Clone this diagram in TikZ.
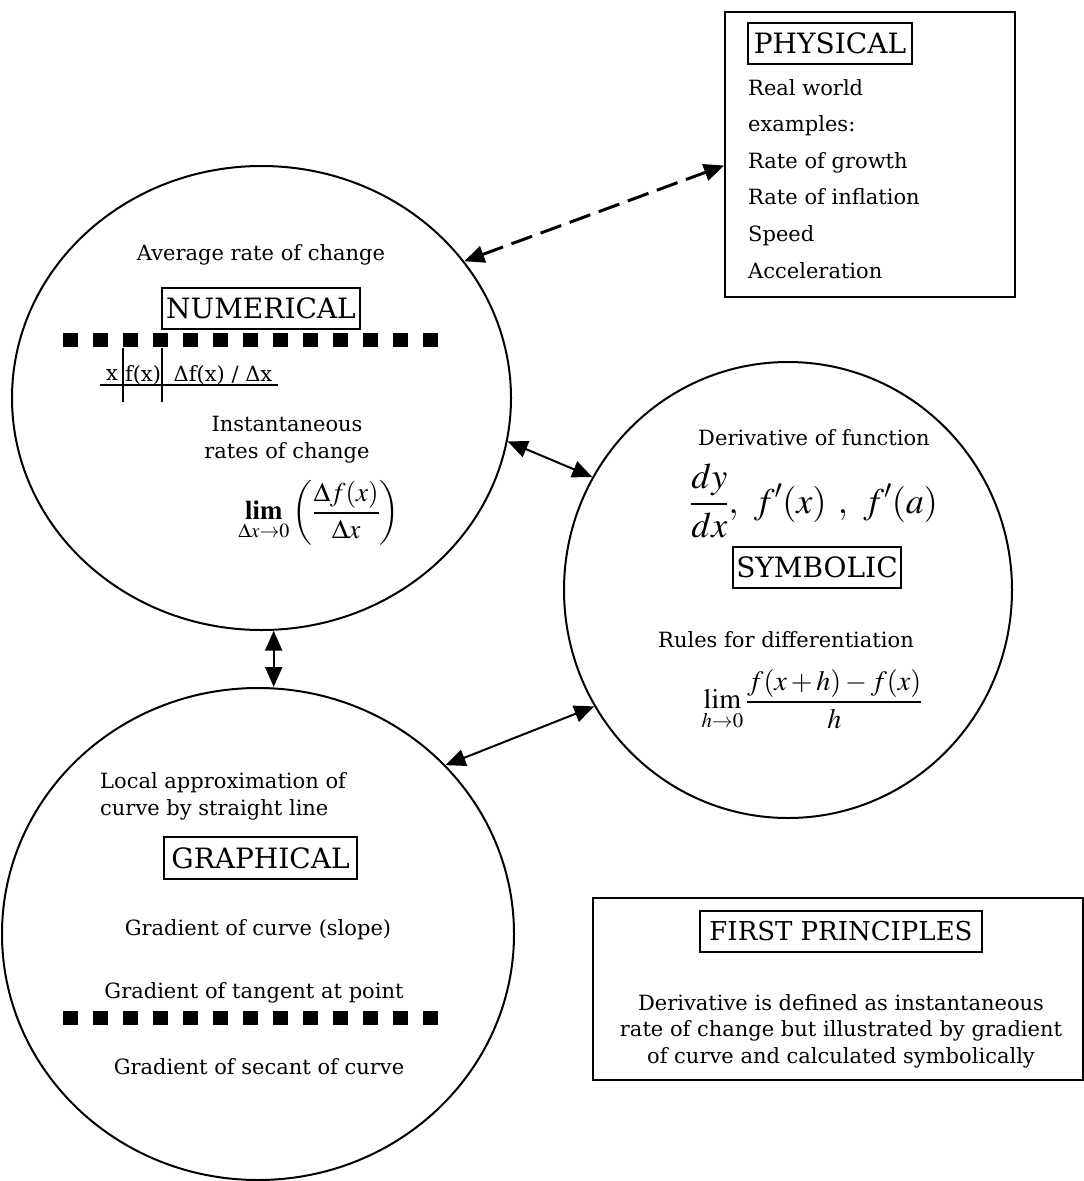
\documentclass[tikz,border=0pt]{standalone}
\usepackage{mathptmx}
\usepackage{fontspec}
\setmainfont{DejaVu Serif}
\usetikzlibrary{shapes.geometric,arrows.meta,calc}

\begin{document}
\begin{tikzpicture}[x=1pt,y=-1pt,
  txt/.style={font=\fontsize{21}{27}\selectfont, inner sep=0, align=center},
  ring/.style={ellipse, draw, line width=2pt, inner sep=0},
  tag/.style={draw, line width=2.5pt, inner sep=0, font=\fontsize{28}{28}\selectfont},
  frame/.style={draw, line width=2pt, inner sep=0},
  tip/.tip={Triangle[length=20pt,width=17pt]},
  link/.style={line width=2pt, tip-tip},
  squares/.style={line width=14pt, dash pattern=on 15pt off 15pt},
  rule/.style={line width=1.5pt},
  cell/.style={inner sep=0, font=\fontsize{21}{21}\selectfont},
]
\useasboundingbox (0,0) rectangle (1084,1181);

% the three views drawn as rings
\node[ring, minimum width=499pt, minimum height=464pt] (num) at (261.5,398) {};
\node[ring, minimum width=448pt, minimum height=456pt] (sym) at (788,590) {};
\node[ring, minimum width=512pt, minimum height=492pt] (gra) at (258,934) {};

% physical box
\node[frame, minimum width=290pt, minimum height=285pt] (phys) at (870,154.5) {};
\node[tag, minimum width=164pt, minimum height=41pt] (physlbl) at (830,43.5) {PHYSICAL};
\node[txt, align=left, anchor=north west, font=\fontsize{21}{36.6}\selectfont] (physlist) at (748,79)
  {Real world\\examples:\\Rate of growth\\Rate of inflation\\Speed\\Acceleration};

% first principles box
\node[frame, minimum width=490pt, minimum height=182pt] (fp) at (838,989) {};
\node[tag, font=\fontsize{26}{26}\selectfont, minimum width=282pt, minimum height=41pt] (fplbl) at (841,931.5) {FIRST PRINCIPLES};
\node[txt, font=\fontsize{21}{26.5}\selectfont] (fptext) at (841,1031)
  {Derivative is defined as instantaneous\\rate of change but illustrated by gradient\\of curve and calculated symbolically};

% numerical
\node[txt] (avg) at (261,255) {Average rate of change};
\node[tag, minimum width=198pt, minimum height=41pt] (numlbl) at (261,308.5) {NUMERICAL};
\draw[squares] (63,340) -- (450,340);
\node[cell] (tx) at (112,375) {x};
\node[cell] (tf) at (143,375) {f(x)};
\node[cell] (td) at (223,375) {Δf(x) / Δx};
\draw[rule] (100,385) -- (278,385);
\draw[rule] (123,348) -- (123,402);
\draw[rule] (162,348) -- (162,402);
\node[txt] (inst) at (287,440) {Instantaneous\\rates of change};
\node[inner sep=0, font=\fontsize{27}{30}\selectfont] (numlim) at (319,513)
  {$\displaystyle\mathop{\mathbf{lim}}\limits_{\Delta x\to 0}\left(\frac{\Delta f(x)}{\Delta x}\right)$};

% symbolic
\node[txt] (derfn) at (814,438) {Derivative of function};
\node[inner sep=0, font=\fontsize{36}{40}\selectfont] (notation) at (814,501)
  {$\displaystyle\frac{dy}{dx},\ f'(x)\ ,\ f'(a)$};
\node[tag, minimum width=168pt, minimum height=41pt] (symlbl) at (817,567.5) {SYMBOLIC};
\node[txt] (rules) at (786,640) {Rules for differentiation};
\node[inner sep=0, font=\fontsize{28}{30}\selectfont] (symlim) at (812,700)
  {$\displaystyle\mathop{\mathrm{lim}}\limits_{h\to 0}\frac{f(x+h)-f(x)}{h}$};

% graphical
\node[txt, align=left, anchor=west] (local) at (100,796) {Local approximation of\\curve by straight line};
\node[tag, minimum width=193pt, minimum height=42pt] (gralbl) at (260.5,858) {GRAPHICAL};
\node[txt] (slope) at (258,930) {Gradient of curve (slope)};
\node[txt] (tangent) at (254,993) {Gradient of tangent at point};
\draw[squares] (63,1018) -- (450,1018);
\node[txt] (secant) at (259,1067) {Gradient of secant of curve};

% connections between the views
\draw[link, line width=3pt, dash pattern=on 22pt off 9pt] (num.34) -- ($(phys.west)+(0,11)$);
\draw[link] (num.-10.6) -- (sym.150.7);
\draw[link] (num.-87) -- (num.-87 |- gra.north);
\draw[link] (gra.42.7) -- (sym.211);
\end{tikzpicture}
\end{document}
